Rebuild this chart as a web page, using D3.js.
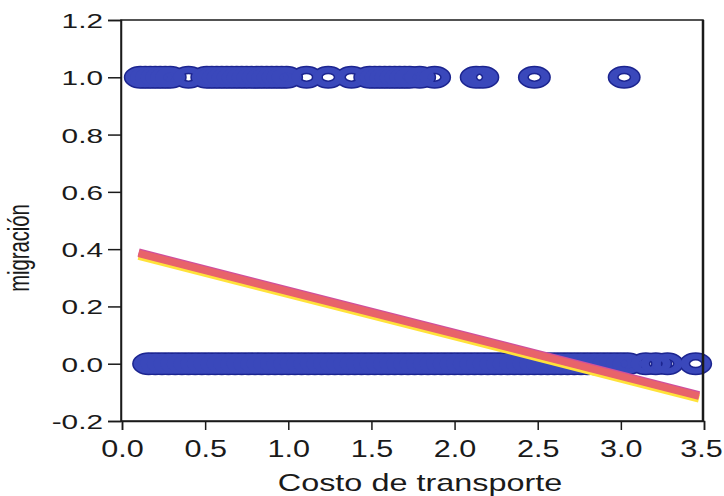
<!DOCTYPE html>
<html><head><meta charset="utf-8">
<script src="https://cdn.jsdelivr.net/npm/d3@7"></script>
<style>body{margin:0;background:#fff}svg{display:block}</style>
</head><body>
<svg id="c" width="724" height="496"></svg>
<script>
// Data
const migrantX = [0.11,0.14,0.17,0.20,0.23,0.26,0.29,0.40,
  0.51,0.54,0.57,0.60,0.63,0.66,0.69,0.72,0.75,0.78,0.81,0.84,0.87,0.90,0.93,0.96,0.99,
  1.11,1.24,1.38,
  1.49,1.52,1.55,1.58,1.61,1.64,1.67,1.70,1.73,
  1.79,1.88,2.13,2.17,2.48,3.02];
const stayX = [0.16,0.20,0.24,0.28,0.32,0.36,0.40,0.44,0.48,0.52,0.56,0.60,0.64,0.68,0.72,0.76,0.80,0.84,0.88,0.92,0.96,
  1.00,1.04,1.08,1.12,1.16,1.20,1.24,1.28,1.32,1.36,1.40,1.44,1.48,1.52,1.56,1.60,1.64,1.68,1.72,1.76,1.80,1.84,1.88,1.92,1.96,
  2.00,2.04,2.08,2.12,2.16,2.20,2.24,2.28,2.32,2.36,2.40,2.44,2.48,2.52,2.56,2.60,2.64,2.68,2.72,2.76,2.80,2.84,2.88,2.92,2.96,
  3.00,3.04,3.15,3.21,3.28,3.45];
const fitX = [0.10, 3.47];
const fitY = [0.385, -0.113];
const xTicks = [0,0.5,1,1.5,2,2.5,3,3.5];
const yTicks = [-0.2,0,0.2,0.4,0.6,0.8,1.0,1.2];
const xLabel = "Costo de transporte";
const yLabel = "migración";

const svg = d3.select("#c");
const L=121, R=703, T=20, B=421;
const x = d3.scaleLinear().domain([0,3.5]).range([L+1,R+1]);
const y = d3.scaleLinear().domain([-0.2,1.2]).range([B,T]);

const ink = "#1a1a1a";
const font = "'Liberation Sans', Arial, sans-serif";
const fmt = d => d3.format(".1f")(d).replace("\u2212","-");

// points
const pts = migrantX.map(v=>[v,1]).concat(stayX.map(v=>[v,0]));
function ring(cx,cy){
  const ro=[15,10], ri=[7,4.6];
  return `M${cx-ro[0]},${cy}a${ro[0]},${ro[1]} 0 1,0 ${2*ro[0]},0a${ro[0]},${ro[1]} 0 1,0 ${-2*ro[0]},0Z`+
         `M${cx-ri[0]},${cy}a${ri[0]},${ri[1]} 0 1,0 ${2*ri[0]},0a${ri[0]},${ri[1]} 0 1,0 ${-2*ri[0]},0Z`;
}
const g = svg.append("g");
g.selectAll("path.o").data(pts).join("path").attr("class","o")
  .attr("d",d=>ring(x(d[0]),y(d[1]))).attr("fill","#1c2590").attr("fill-rule","evenodd")
  .attr("stroke","#1c2590").attr("stroke-width",3);
g.selectAll("path.f").data(pts).join("path").attr("class","f")
  .attr("d",d=>ring(x(d[0]),y(d[1]))).attr("fill","#3a48bb").attr("fill-rule","evenodd");

// fit line
const ln = d3.line().x(d=>x(d[0])).y(d=>y(d[1]));
const lp = fitX.map((v,i)=>[v,fitY[i]]);
svg.append("path").attr("d",ln(lp)).attr("transform","translate(0,2.5)").attr("stroke","#ffe23a").attr("stroke-width",8).attr("fill","none");
svg.append("path").attr("d",ln(lp)).attr("transform","translate(0,-1)").attr("stroke","#cf4f9e").attr("stroke-width",8).attr("fill","none");
svg.append("path").attr("d",ln(lp)).attr("stroke","#e8636a").attr("stroke-width",7.5).attr("fill","none");

// frame
svg.append("rect").attr("x",L).attr("y",T).attr("width",R-L).attr("height",B-T)
  .attr("fill","none").attr("stroke",ink).attr("stroke-width",1.5);
svg.append("line").attr("x1",R).attr("x2",R).attr("y1",T).attr("y2",B).attr("stroke",ink).attr("stroke-width",2.5);

// axes
const xa = svg.append("g").attr("transform",`translate(0,${B})`)
  .call(d3.axisBottom(x).tickValues(xTicks).tickFormat(fmt).tickSize(9).tickPadding(0));
const ya = svg.append("g").attr("transform",`translate(${L},0)`)
  .call(d3.axisLeft(y).tickValues(yTicks).tickFormat(fmt).tickSize(13).tickPadding(0));
[xa,ya].forEach(a=>{a.select(".domain").attr("stroke",ink).attr("stroke-width",1.5);
  a.selectAll(".tick line").attr("stroke",ink).attr("stroke-width",1.5);});
xa.selectAll(".tick text").attr("font-family",font).attr("font-size",23).attr("fill",ink)
  .attr("dy",null).attr("y",null)
  .attr("transform",(d,i)=>`translate(${i===xTicks.length-1?-3:0},36) scale(1.33,1)`);
ya.selectAll(".tick text").attr("font-family",font).attr("font-size",21).attr("fill",ink)
  .attr("dy",null).attr("x",null).attr("text-anchor","end")
  .attr("transform","translate(-18,7.5) scale(1.42,1)");

svg.append("text").attr("font-family",font).attr("font-size",24).attr("fill",ink)
  .attr("text-anchor","middle").attr("transform",`translate(420,491) scale(1.35,1)`).text(xLabel);
svg.append("text").attr("font-family",font).attr("font-size",22).attr("fill",ink)
  .attr("text-anchor","middle").attr("transform",`translate(29,248) rotate(-90) scale(0.92,1.3)`).text(yLabel);
</script>
</body></html>
